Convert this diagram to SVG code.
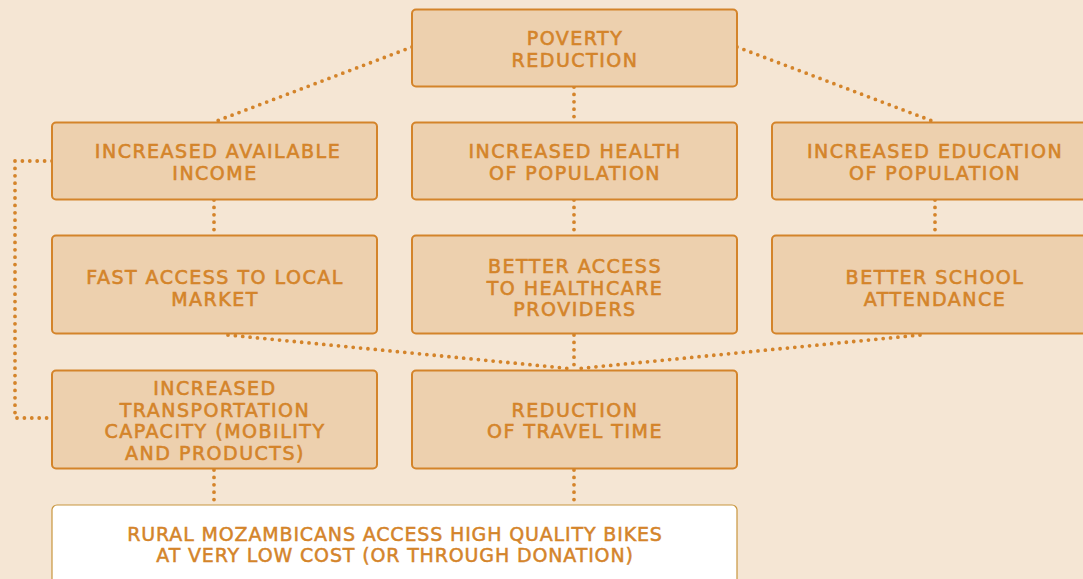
<svg xmlns="http://www.w3.org/2000/svg" width="1083" height="579" viewBox="0 0 1083 579">
<style>
.bg{fill:#F5E6D4}
.node rect{fill:#EDD0AE;stroke:#D4842A;stroke-width:2}
.base rect{fill:#FFFFFF;stroke:#C8963E;stroke-width:1.2}
text{font-family:"DejaVu Sans","Liberation Sans",sans-serif;font-size:19px;fill:#D4842A;stroke:#D4842A;stroke-width:0.6;letter-spacing:1.5px;text-anchor:middle}
.base text{letter-spacing:0.85px;stroke-width:0.5}
.conn path{fill:none;stroke:#D4842A;stroke-width:3.8;stroke-linecap:round;stroke-dasharray:0 7.4}
</style>
<rect class="bg" x="0" y="0" width="1083" height="579"/>
<g id="connectors" class="conn">
<path d="M412,47 L214,122"/>
<path d="M737,47 L935,122"/>
<path d="M574,87 L574,122"/>
<path d="M214,200 L214,235"/>
<path d="M574,200 L574,235"/>
<path d="M935,200 L935,235"/>
<path d="M228,335 L574,369"/>
<path d="M920,335 L574,369"/>
<path d="M574,335 L574,369"/>
<path d="M52,161 L15,161 L15,418 L52,418"/>
<path d="M214,470 L214,505"/>
<path d="M574,470 L574,505"/>
</g>
<g id="n-poverty" class="node"><rect x="412" y="9.5" width="325" height="77" rx="4"/><text x="575" y="45">POVERTY</text><text x="575" y="67">REDUCTION</text></g>
<g id="n-income" class="node"><rect x="52" y="122.5" width="325" height="77" rx="4"/><text x="218" y="158">INCREASED AVAILABLE</text><text x="215" y="180">INCOME</text></g>
<g id="n-health" class="node"><rect x="412" y="122.5" width="325" height="77" rx="4"/><text x="575" y="158">INCREASED HEALTH</text><text x="575" y="180">OF POPULATION</text></g>
<g id="n-education" class="node"><rect x="772" y="122.5" width="325" height="77" rx="4"/><text x="935" y="158">INCREASED EDUCATION</text><text x="935" y="180">OF POPULATION</text></g>
<g id="n-market" class="node"><rect x="52" y="235.5" width="325" height="98" rx="4"/><text x="215" y="284">FAST ACCESS TO LOCAL</text><text x="215" y="306">MARKET</text></g>
<g id="n-healthcare" class="node"><rect x="412" y="235.5" width="325" height="98" rx="4"/><text x="575" y="273">BETTER ACCESS</text><text x="575" y="295">TO HEALTHCARE</text><text x="575" y="316">PROVIDERS</text></g>
<g id="n-school" class="node"><rect x="772" y="235.5" width="325" height="98" rx="4"/><text x="935" y="284">BETTER SCHOOL</text><text x="935" y="306">ATTENDANCE</text></g>
<g id="n-transport" class="node"><rect x="52" y="370.5" width="325" height="98" rx="4"/><text x="215" y="395">INCREASED</text><text x="215" y="417">TRANSPORTATION</text><text x="215" y="438">CAPACITY (MOBILITY</text><text x="215" y="460">AND PRODUCTS)</text></g>
<g id="n-travel" class="node"><rect x="412" y="370.5" width="325" height="98" rx="4"/><text x="575" y="417">REDUCTION</text><text x="575" y="438">OF TRAVEL TIME</text></g>
<g id="n-bikes" class="base"><rect x="52" y="505" width="685" height="100" rx="5"/><text x="395" y="541">RURAL MOZAMBICANS ACCESS HIGH QUALITY BIKES</text><text x="395" y="562">AT VERY LOW COST (OR THROUGH DONATION)</text></g>
</svg>
